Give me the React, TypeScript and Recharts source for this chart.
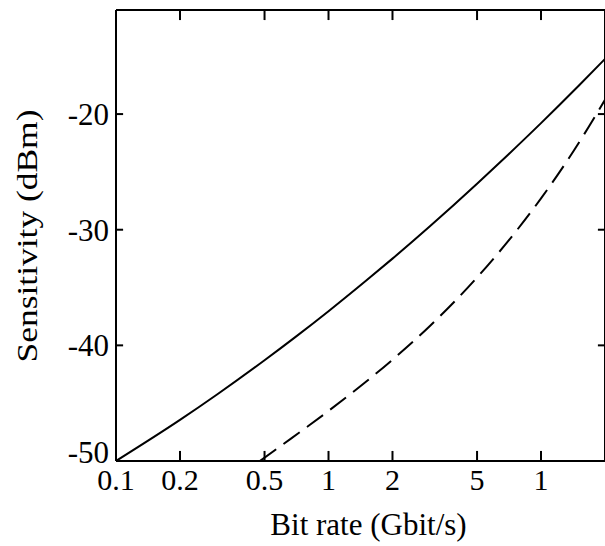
import { LineChart, Line, XAxis, YAxis, Label, ReferenceLine } from 'recharts'

// solid curve
const solidRate = [0.1, 0.2, 0.3, 0.5, 0.7, 1, 1.5, 2, 3, 5, 7, 10, 15, 20]
const solidSens = [-50, -46.45, -44.23, -41.29, -39.27, -37.05, -34.42, -32.5, -29.7, -26.02, -23.51, -20.78, -17.57, -15.23]

// dashed curve
const dashedRate = [0.476, 0.6, 0.8, 1, 1.5, 2, 3, 5, 7, 10, 13, 16, 20]
const dashedSens = [-50, -48.66, -47.0, -45.67, -43.15, -41.24, -38.32, -34.13, -30.99, -27.29, -24.29, -21.71, -18.77]

const xTicks = [0.1, 0.2, 0.5, 1, 2, 5, 10]
const xTickLabels = ['0.1', '0.2', '0.5', '1', '2', '5', '1']
const yTicks = [-50, -40, -30, -20]

const X_MIN = 0.1
const X_MAX = 20
const Y_MIN = -50
const Y_MAX = -11

const solidData = solidRate.map((r, i) => ({ rate: r, sens: solidSens[i] }))
const dashedData = dashedRate.map((r, i) => ({ rate: r, sens: dashedSens[i] }))

const font = '"Liberation Serif", "Times New Roman", serif'
const axisLine = { stroke: '#000', strokeWidth: 2 }

// inward tick lengths in data units (about 10px vertical, 7px horizontal)
const TICK_DB = 0.87
const TICK_FACTOR = 1.08

function XTick(props: any) {
  return (
    <text x={Number(props.x)} y={Number(props.y)} dy="0.71em" textAnchor="middle" fontFamily={font} fontSize={30} fill="#000">
      {xTickLabels[props.index]}
    </text>
  )
}

function YTick(props: any) {
  const shift = props.payload.value === -50 ? -9 : 0
  return (
    <text x={Number(props.x)} y={Number(props.y) + shift} dy="0.355em" textAnchor="end" fontFamily={font} fontSize={31} fill="#000">
      {props.payload.value}
    </text>
  )
}

const tickMark = { stroke: '#000', strokeWidth: 2, ifOverflow: 'visible' as const }

export default function App() {
  return (
    <div style={{ position: 'absolute', left: 0, top: 0, width: 605, height: 546, overflow: 'hidden', background: '#fff' }}>
      <LineChart width={625} height={546} margin={{ top: 0, right: 0, bottom: 0, left: 36 }}>
        <XAxis
          dataKey="rate"
          type="number"
          scale="log"
          domain={[X_MIN, X_MAX]}
          ticks={xTicks}
          allowDataOverflow
          height={85}
          axisLine={axisLine}
          tickLine={false}
          tickSize={0}
          tickMargin={8}
          tick={XTick}
          interval={0}
        >
          <Label
            content={({ viewBox }: any) => (
              <text
                x={viewBox.x + viewBox.width / 2 + 8}
                y={535}
                textAnchor="middle"
                fontFamily={font}
                fontSize={31}
                fill="#000"
              >
                Bit rate (Gbit/s)
              </text>
            )}
          />
        </XAxis>
        <XAxis
          xAxisId="top"
          orientation="top"
          dataKey="rate"
          type="number"
          scale="log"
          domain={[X_MIN, X_MAX]}
          allowDataOverflow
          height={10}
          axisLine={axisLine}
          tickLine={false}
          tick={false}
        />
        <YAxis
          type="number"
          domain={[Y_MIN, Y_MAX]}
          ticks={yTicks}
          allowDataOverflow
          width={80}
          axisLine={axisLine}
          tickLine={false}
          tickSize={0}
          tickMargin={7}
          tick={YTick}
          interval={0}
        >
          <Label
            content={() => (
              <text
                x={37}
                y={236}
                transform="rotate(-90, 37, 236)"
                textAnchor="middle"
                fontFamily={font}
                fontSize={30}
                textLength={253}
                lengthAdjust="spacingAndGlyphs"
                fill="#000"
              >
                Sensitivity (dBm)
              </text>
            )}
          />
        </YAxis>
        <YAxis
          yAxisId="right"
          orientation="right"
          type="number"
          domain={[Y_MIN, Y_MAX]}
          allowDataOverflow
          width={20}
          axisLine={axisLine}
          tickLine={false}
          tick={false}
        />

        {/* inward tick marks on all four sides */}
        {xTicks.slice(1).map((t) => (
          <ReferenceLine key={`b${t}`} segment={[{ x: t, y: Y_MIN }, { x: t, y: Y_MIN + TICK_DB }]} {...tickMark} />
        ))}
        {xTicks.slice(1).map((t) => (
          <ReferenceLine key={`t${t}`} segment={[{ x: t, y: Y_MAX }, { x: t, y: Y_MAX - TICK_DB }]} {...tickMark} />
        ))}
        {yTicks.slice(1).map((t) => (
          <ReferenceLine key={`l${t}`} segment={[{ x: X_MIN, y: t }, { x: X_MIN * TICK_FACTOR, y: t }]} {...tickMark} />
        ))}
        {yTicks.slice(1).map((t) => (
          <ReferenceLine key={`r${t}`} segment={[{ x: X_MAX, y: t }, { x: X_MAX / TICK_FACTOR, y: t }]} {...tickMark} />
        ))}

        <Line
          data={solidData}
          dataKey="sens"
          type="monotone"
          stroke="#000"
          strokeWidth={2}
          dot={false}
          isAnimationActive={false}
        />
        <Line
          data={dashedData}
          dataKey="sens"
          type="monotone"
          stroke="#000"
          strokeWidth={2}
          strokeDasharray="20 9"
          dot={false}
          isAnimationActive={false}
        />
      </LineChart>
    </div>
  )
}
